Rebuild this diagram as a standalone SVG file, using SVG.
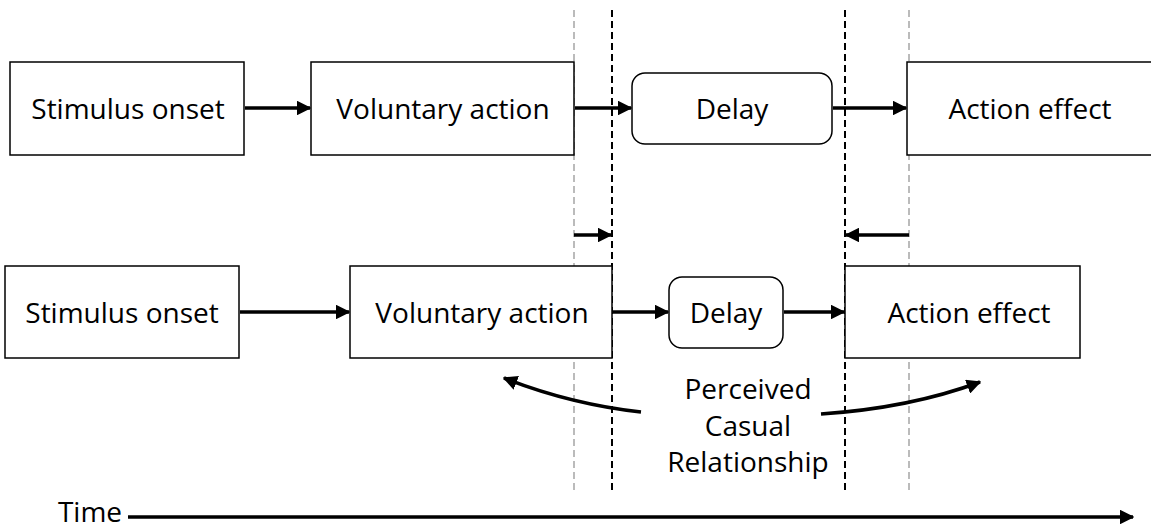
<svg xmlns="http://www.w3.org/2000/svg" width="1151" height="529" viewBox="0 0 1151 529">
<style>
.box{fill:#fff;stroke:#000;stroke-width:1.5}
.t{font-family:"Open Sans","Liberation Sans",sans-serif;font-size:28px;fill:#000;text-anchor:middle}
.c{stroke:#000;stroke-width:3.5;fill:none}
.dk{stroke:#000;stroke-width:2;stroke-dasharray:7,4}
.gr{stroke:#bbb;stroke-width:2;stroke-dasharray:7,4}
</style>
<defs>
<marker id="ah" viewBox="0 0 10 10" refX="9" refY="5" markerWidth="4.2" markerHeight="4.2" orient="auto" markerUnits="strokeWidth">
<path d="M0,0 L10,5 L0,10 z" fill="#000"/>
</marker>
</defs>
<rect width="1151" height="529" fill="#fff"/>
<g id="guides">
<line class="gr" x1="574" y1="10" x2="574" y2="492"/>
<line class="dk" x1="612" y1="10" x2="612" y2="492"/>
<line class="dk" x1="845" y1="10" x2="845" y2="492"/>
<line class="gr" x1="909" y1="10" x2="909" y2="492"/>
</g>
<g id="n1"><rect class="box" x="10" y="62" width="234" height="93"/><text class="t" x="128" y="119">Stimulus onset</text></g>
<g id="n2"><rect class="box" x="311" y="62" width="263" height="93"/><text class="t" x="443" y="119">Voluntary action</text></g>
<g id="n3"><rect class="box" x="632" y="73" width="200" height="71" rx="13"/><text class="t" x="732" y="119">Delay</text></g>
<g id="n4"><rect class="box" x="907" y="62" width="250" height="93"/><text class="t" x="1030" y="119">Action effect</text></g>
<g id="n5"><rect class="box" x="5" y="266" width="234" height="92"/><text class="t" x="122" y="323">Stimulus onset</text></g>
<g id="n6"><rect class="box" x="350" y="266" width="262" height="92"/><text class="t" x="482" y="323">Voluntary action</text></g>
<g id="n7"><rect class="box" x="669" y="277" width="114" height="71" rx="13"/><text class="t" x="726" y="323">Delay</text></g>
<g id="n8"><rect class="box" x="845" y="266" width="235" height="92"/><text class="t" x="969" y="323">Action effect</text></g>
<g id="labels">
<text class="t" x="748" y="399">Perceived</text>
<text class="t" x="748" y="436">Casual</text>
<text class="t" x="748" y="472">Relationship</text>
<text class="t" x="90" y="522">Time</text>
</g>
<g id="connectors">
<line class="c" x1="245" y1="108" x2="310" y2="108" marker-end="url(#ah)"/>
<line class="c" x1="575" y1="108" x2="631" y2="108" marker-end="url(#ah)"/>
<line class="c" x1="833" y1="108" x2="906" y2="108" marker-end="url(#ah)"/>
<line class="c" x1="240" y1="312" x2="349" y2="312" marker-end="url(#ah)"/>
<line class="c" x1="613" y1="312" x2="668" y2="312" marker-end="url(#ah)"/>
<line class="c" x1="784" y1="312" x2="844" y2="312" marker-end="url(#ah)"/>
<line class="c" x1="574" y1="235" x2="611" y2="235" marker-end="url(#ah)"/>
<line class="c" x1="909" y1="235" x2="846" y2="235" marker-end="url(#ah)"/>
<path class="c" d="M641,412 Q570,404 504,378" marker-end="url(#ah)"/>
<path class="c" d="M821,414 Q910,408 980,382" marker-end="url(#ah)"/>
<line class="c" x1="128" y1="517" x2="1133" y2="517" marker-end="url(#ah)"/>
</g>
</svg>
